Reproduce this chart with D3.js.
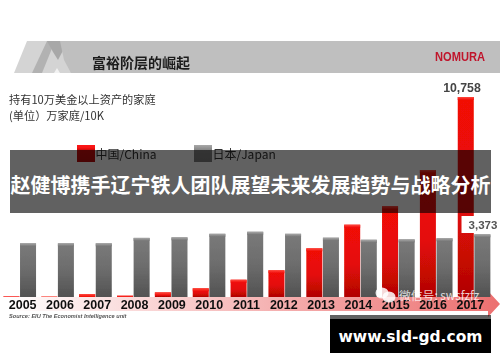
<!DOCTYPE html>
<html>
<head>
<meta charset="utf-8">
<script src="https://cdnjs.cloudflare.com/ajax/libs/d3/7.8.5/d3.min.js"></script>
<style>
html, body { margin: 0; padding: 0; background: #fff; }
svg { display: block; }
text { font-family: "Liberation Sans", "Noto Sans CJK SC", sans-serif; }
</style>
</head>
<body>
<svg id="chart" width="500" height="362"></svg>
<script>
const years = ["2005", "2006", "2007", "2008", "2009", "2010", "2011", "2012", "2013", "2014", "2015", "2016", "2017"];
const china = [30, 20, 160, 70, 250, 470, 930, 1440, 2620, 3890, 4880, 6830, 10758];
const japan = [2890, 2890, 2890, 3180, 3210, 3400, 3510, 3400, 3190, 3080, 3100, 3160, 3373];
const seriesNames = ["中国/China", "日本/Japan"];
const valueLabels = ["10,758", "3,373"];

const svg = d3.select("svg#chart");
const defs = svg.append("defs");

const soft = defs.append("filter").attr("id", "soft");
soft.append("feGaussianBlur").attr("stdDeviation", 0.35);

function vGrad(id, stops) {
    const g = defs.append("linearGradient").attr("id", id).attr("x1", 0).attr("y1", 0).attr("x2", 0).attr("y2", 1);
    stops.forEach(s => g.append("stop").attr("offset", s[0]).attr("stop-color", s[1]));
}
vGrad("redBar", [[0, "#f20a06"], [0.55, "#e40d08"], [1, "#b00404"]]);
vGrad("grayBar", [[0, "#7a7a7a"], [0.5, "#6c6c6c"], [1, "#525252"]]);
vGrad("redCap", [[0, "#ff4a40"], [1, "#f00a06"]]);
vGrad("grayCap", [[0, "#a8a8a8"], [1, "#767676"]]);
vGrad("redSwatch", [[0, "#ff1a1a"], [0.2, "#f01010"], [0.25, "#d01010"], [1, "#c00808"]]);
vGrad("graySwatch", [[0, "#a8a8a8"], [0.2, "#909090"], [0.25, "#888"], [1, "#808080"]]);

const arrowGrad = defs.append("linearGradient").attr("id", "arrow");
arrowGrad.append("stop").attr("offset", 0).attr("stop-color", "#ffffff");
arrowGrad.append("stop").attr("offset", 1).attr("stop-color", "#ec6f6f");

const page = svg.append("g").attr("filter", "url(#soft)");

// header band
page.append("rect").attr("x", 66).attr("y", 41).attr("width", 434).attr("height", 32).attr("fill", "#bfbfbf");
page.append("polygon").attr("points", "14,73 27,41 60,41 71,73").attr("fill", "#d4d4d4");
page.append("polygon").attr("points", "32,73 47,41 55,41 42,73").attr("fill", "#b2b2b2");
page.append("polygon").attr("points", "47,41 68,41 58,60 53,52").attr("fill", "#a8a8a8");
page.append("polygon").attr("points", "60,41 68,41 71,73 64,60").attr("fill", "#bfbfbf");
page.append("polygon").attr("points", "54,73 57,68 60,73").attr("fill", "#f2f2f2");
page.append("text").attr("x", 92).attr("y", 68).attr("font-size", 14).attr("font-weight", "bold").attr("fill", "#1c1c1c")
    .style("font-family", "'Noto Sans CJK SC'").text("富裕阶层的崛起");
page.append("text").attr("x", 460).attr("y", 60.5).attr("text-anchor", "middle").attr("font-size", 12.5).attr("font-weight", "bold")
    .attr("fill", "#c0132c").attr("textLength", 50).attr("lengthAdjust", "spacingAndGlyphs").text("NOMURA");

// subtitle
page.append("text").attr("x", 9).attr("y", 104).attr("font-size", 11.2).attr("fill", "#333")
    .style("font-family", "'Noto Sans CJK SC'").text("持有10万美金以上资产的家庭");
page.append("text").attr("x", 9).attr("y", 120).attr("font-size", 11.2).attr("fill", "#333")
    .style("font-family", "'Noto Sans CJK SC'").text("(单位）万家庭/10K");

// scales
const x = d3.scaleBand().domain(years).range([0.8, 493]);
const xSeries = d3.scaleBand().domain([0, 1]).range([0, x.bandwidth()]).paddingInner(0.036).paddingOuter(0.158);
const xLabel = d3.scaleBand().domain(years).range([4, 489]);
const y = d3.scaleLinear().domain([0, 10758]).range([297, 97]);

// arrow under the years
page.append("polygon").attr("points", "8,297 488,297 488,291 500,304 488,317 488,311 8,311").attr("fill", "url(#arrow)");

const rows = [china, japan];
const fills = ["redBar", "grayBar"];
const caps = ["redCap", "grayCap"];
const bars = page.append("g");

[1, 0].forEach(s => {
    const g = bars.append("g");
    g.selectAll("rect.bar")
        .data(years)
        .join("rect")
        .attr("class", "bar")
        .attr("x", d => x(d) + xSeries(s))
        .attr("y", (d, i) => y(rows[s][i]))
        .attr("width", xSeries.bandwidth())
        .attr("height", (d, i) => y(0) - y(rows[s][i]))
        .attr("fill", `url(#${fills[s]})`);
    g.selectAll("rect.cap")
        .data(years)
        .join("rect")
        .attr("class", "cap")
        .attr("x", d => x(d) + xSeries(s))
        .attr("y", (d, i) => y(rows[s][i]))
        .attr("width", xSeries.bandwidth())
        .attr("height", (d, i) => Math.min(3, y(0) - y(rows[s][i])))
        .attr("fill", `url(#${caps[s]})`);
});

// year axis
const axis = page.append("g")
    .attr("transform", "translate(0,297)")
    .call(d3.axisBottom(xLabel).tickSize(0).tickPadding(3));
axis.select(".domain").remove();
axis.selectAll("text").attr("font-size", 12.5).attr("font-weight", "bold").attr("fill", "#111")
    .style("font-family", "'Liberation Sans'");

page.append("text").attr("x", 9).attr("y", 317.5).attr("font-size", 5.6).attr("font-style", "italic").attr("font-weight", "bold")
    .attr("fill", "#555").text("Source: EIU The Economist Intelligence unit");

// legend
const legendX = [77, 194];
const swatches = ["redSwatch", "graySwatch"];
seriesNames.forEach((name, s) => {
    page.append("rect").attr("x", legendX[s]).attr("y", 145).attr("width", 18).attr("height", 17)
        .attr("fill", `url(#${swatches[s]})`);
    page.append("text").attr("x", legendX[s] + 18.5).attr("y", 159).attr("font-size", 12).attr("fill", "#333")
        .style("font-family", "'Noto Sans CJK SC'").text(name);
});

// value labels
page.append("text").attr("x", 462).attr("y", 92).attr("text-anchor", "middle").attr("font-size", 12.3).attr("font-weight", "bold")
    .attr("fill", "#444").text(valueLabels[0]);
page.append("rect").attr("x", 461.5).attr("y", 216).attr("width", 39).attr("height", 17).attr("fill", "#fff");
page.append("text").attr("x", 483).attr("y", 229).attr("text-anchor", "middle").attr("font-size", 11.5).attr("font-weight", "bold")
    .attr("fill", "#555").text(valueLabels[1]);

// wechat watermark
const mark = svg.append("g").attr("fill", "#fff").attr("fill-opacity", 0.85);
mark.append("ellipse").attr("cx", 382).attr("cy", 293).attr("rx", 6.5).attr("ry", 5.5);
mark.append("ellipse").attr("cx", 389).attr("cy", 297).attr("rx", 6.5).attr("ry", 5.5);
svg.append("text").attr("x", 399).attr("y", 300).attr("font-size", 11.8).attr("fill", "#fff").attr("fill-opacity", 0.8)
    .style("font-family", "'Noto Sans CJK SC'").text("微信号: swsfzfz");

// overlay band and site box
svg.append("rect").attr("x", 10).attr("y", 150).attr("width", 481).attr("height", 63).attr("fill", "#000").attr("fill-opacity", 0.62);
svg.append("text").attr("x", 250.5).attr("y", 192.5).attr("text-anchor", "middle").attr("font-size", 20).attr("font-weight", "bold")
    .attr("fill", "#fff").style("font-family", "'Noto Sans CJK SC'").text("赵健博携手辽宁铁人团队展望未来发展趋势与战略分析");
svg.append("rect").attr("x", 330).attr("y", 315).attr("width", 161).attr("height", 4).attr("fill", "#000").attr("fill-opacity", 0.62);
svg.append("rect").attr("x", 330).attr("y", 319).attr("width", 161).attr("height", 34).attr("fill", "#000");
svg.append("text").attr("x", 410.5).attr("y", 342).attr("text-anchor", "middle").attr("font-size", 15.5).attr("font-weight", "bold")
    .attr("fill", "#fff").style("font-family", "'DejaVu Sans'").text("www.sld-gd.com");
</script>
</body>
</html>
